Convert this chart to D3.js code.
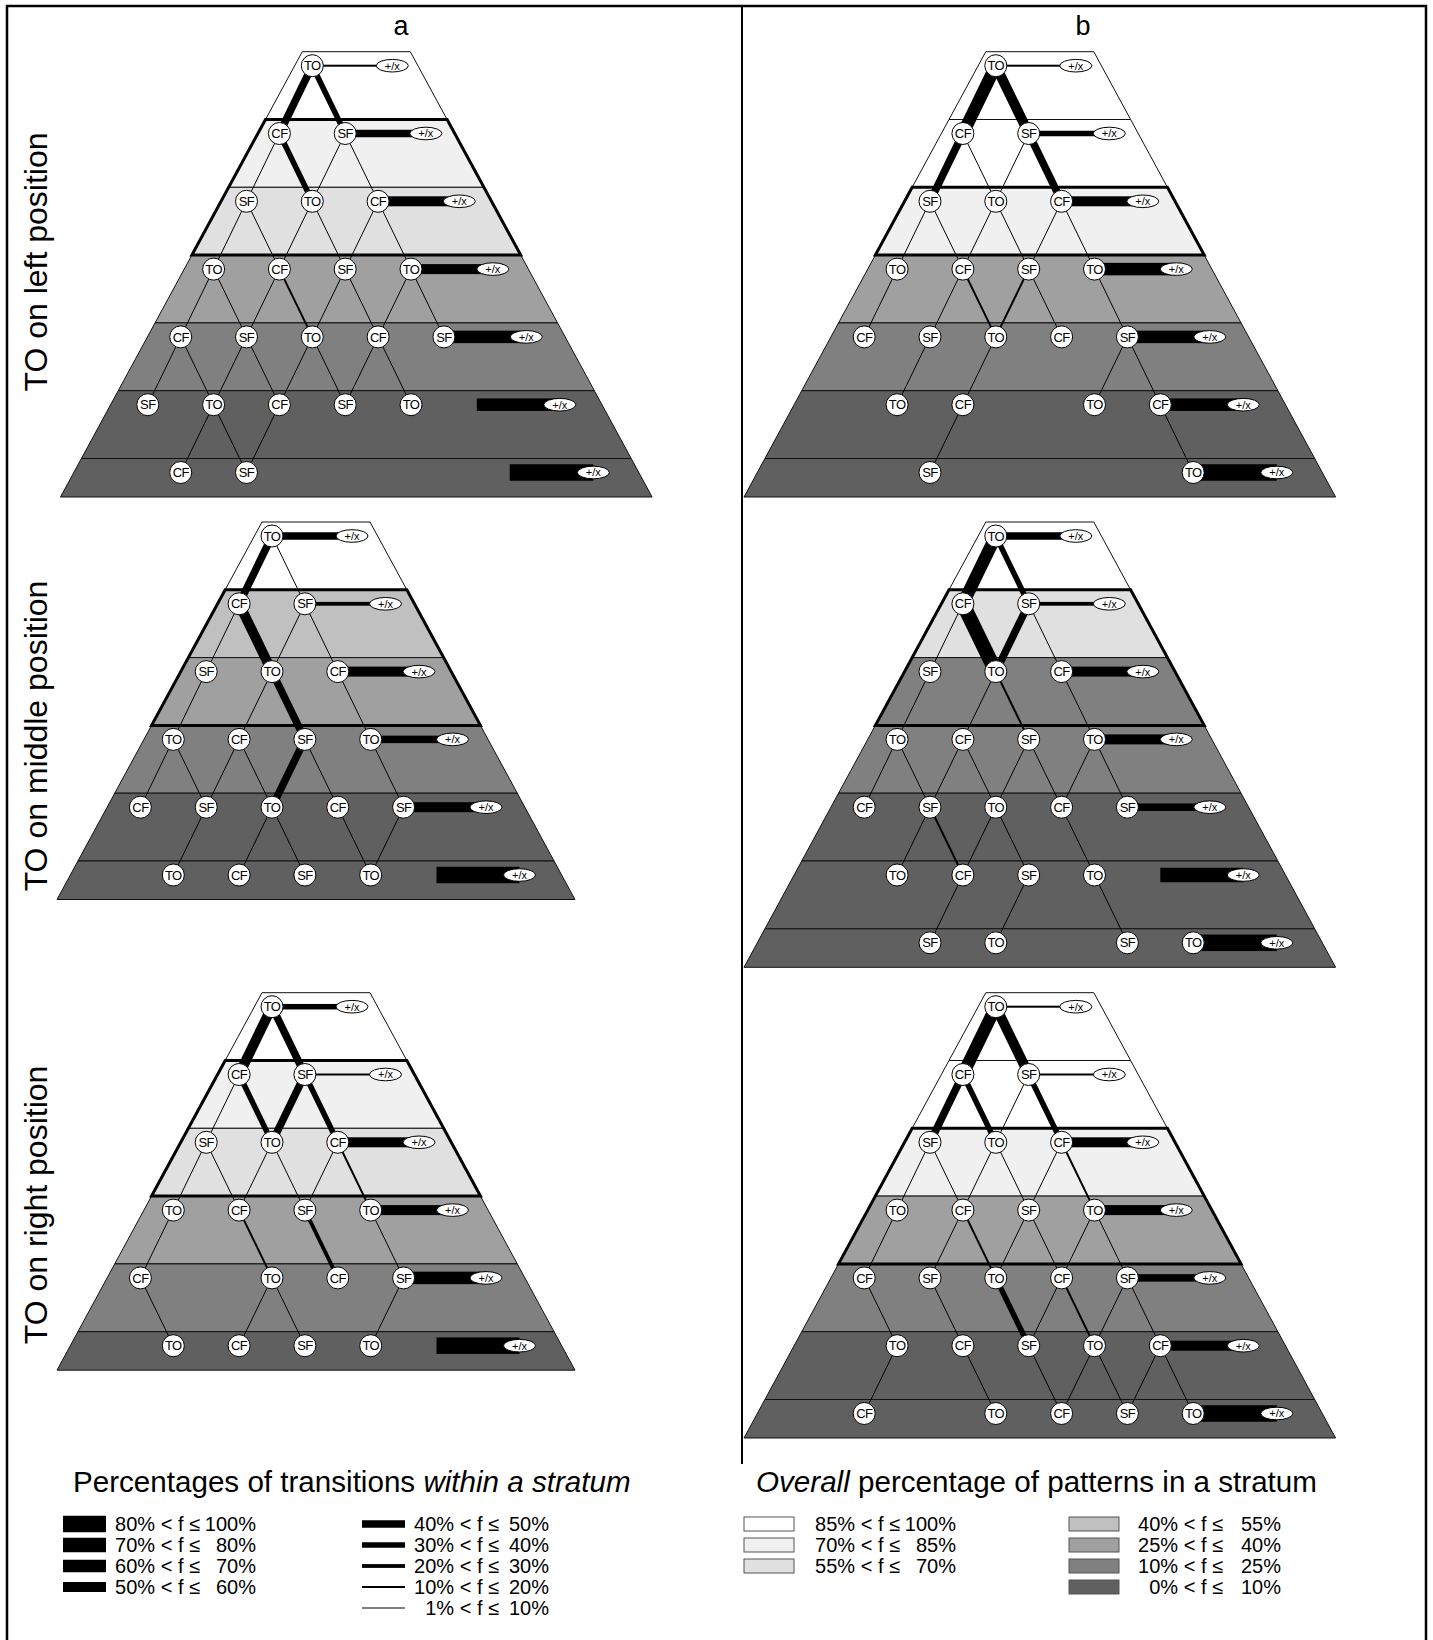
<!DOCTYPE html>
<html>
<head>
<meta charset="utf-8">
<script src="https://cdn.jsdelivr.net/npm/d3@7"></script>
<style>
  body { margin: 0; background: #fff; }
  svg { display: block; }
  text { font-family: "Liberation Sans", Arial, Helvetica, sans-serif; fill: #000; }
</style>
</head>
<body>
<svg id="chart" width="1433" height="1640"></svg>
<script>
// ---- frequency classes -------------------------------------------------
// transitions within a stratum (%): class breaks and stroke widths
const freqBreaks = [10, 20, 30, 40, 50, 60, 70, 80];
const freqWidths = [1, 2, 3.8, 5.5, 7.5, 10, 12.5, 14.5, 16.5];
// overall share of patterns in a stratum (%): class breaks and fills
const shareBreaks = [10, 25, 40, 55, 70, 85];
const shareFills = ["#606060", "#808080", "#a0a0a0", "#c0c0c0", "#e0e0e0", "#f0f0f0", "#ffffff"];

const columnTitles = ["a", "b"];
const positionTitles = ["TO on left position", "TO on middle position", "TO on right position"];

// legend entries: [lower bound text, upper bound text, representative value]
const freqLegendLeft = [["80% < f \u2264", "100%", 90], ["70% < f \u2264", "80%", 75], ["60% < f \u2264", "70%", 65], ["50% < f \u2264", "60%", 55]];
const freqLegendRight = [["40% < f \u2264", "50%", 45], ["30% < f \u2264", "40%", 35], ["20% < f \u2264", "30%", 25], ["10% < f \u2264", "20%", 15], ["1% < f \u2264", "10%", 5]];
const shareLegendLeft = [["85% < f \u2264", "100%", 92], ["70% < f \u2264", "85%", 78], ["55% < f \u2264", "70%", 62]];
const shareLegendRight = [["40% < f \u2264", "55%", 48], ["25% < f \u2264", "40%", 32], ["10% < f \u2264", "25%", 18], ["0% < f \u2264", "10%", 5]];

// ---- pyramids ------------------------------------------------------------
// nodes: per stratum, [lattice position, pattern]
// edges: [upper stratum, from position, to position, % of transitions]
// ends: % of transitions to +/x per stratum; shares: overall % per stratum
// box: first and last stratum inside the bold outline

// a / TO on left position
const nodesA1 = [
  [[0, "TO"]],
  [[-1, "CF"], [1, "SF"]],
  [[-2, "SF"], [0, "TO"], [2, "CF"]],
  [[-3, "TO"], [-1, "CF"], [1, "SF"], [3, "TO"]],
  [[-4, "CF"], [-2, "SF"], [0, "TO"], [2, "CF"], [4, "SF"]],
  [[-5, "SF"], [-3, "TO"], [-1, "CF"], [1, "SF"], [3, "TO"]],
  [[-4, "CF"], [-2, "SF"]]
];
const edgesA1 = [
  [0, 0, -1, 45], [0, 0, 1, 35],
  [1, -1, -2, 5], [1, -1, 0, 35], [1, 1, 0, 5], [1, 1, 2, 5],
  [2, -2, -3, 5], [2, -2, -1, 5], [2, 0, -1, 5], [2, 0, 1, 5], [2, 2, 1, 5], [2, 2, 3, 5],
  [3, -3, -4, 5], [3, -3, -2, 5], [3, -1, -2, 5], [3, -1, 0, 15], [3, 1, 0, 5], [3, 1, 2, 5], [3, 3, 2, 5], [3, 3, 4, 5],
  [4, -4, -5, 5], [4, -4, -3, 5], [4, -2, -3, 5], [4, -2, -1, 5], [4, 0, -1, 5], [4, 0, 1, 5], [4, 2, 1, 5], [4, 2, 3, 5],
  [5, -3, -4, 5], [5, -3, -2, 5], [5, -1, -2, 5]
];
const endsA1 = [15, 45, 55, 55, 65, 65, 90];
const sharesA1 = [92, 78, 62, 32, 18, 5, 5];
const boxA1 = [1, 2];

// a / TO on middle position
const nodesA2 = [
  [[0, "TO"]],
  [[-1, "CF"], [1, "SF"]],
  [[-2, "SF"], [0, "TO"], [2, "CF"]],
  [[-3, "TO"], [-1, "CF"], [1, "SF"], [3, "TO"]],
  [[-4, "CF"], [-2, "SF"], [0, "TO"], [2, "CF"], [4, "SF"]],
  [[-3, "TO"], [-1, "CF"], [1, "SF"], [3, "TO"]]
];
const edgesA2 = [
  [0, 0, -1, 45], [0, 0, 1, 5],
  [1, -1, -2, 5], [1, -1, 0, 55], [1, 1, 0, 5], [1, 1, 2, 5],
  [2, -2, -3, 5], [2, 0, -1, 5], [2, 0, 1, 45], [2, 2, 3, 5],
  [3, -3, -4, 5], [3, -3, -2, 5], [3, -1, -2, 5], [3, -1, 0, 5], [3, 1, 0, 45], [3, 1, 2, 5], [3, 3, 4, 5],
  [4, -2, -3, 5], [4, 0, -1, 5], [4, 0, 1, 5], [4, 2, 3, 5], [4, 4, 3, 5]
];
const endsA2 = [45, 25, 55, 45, 55, 90];
const sharesA2 = [92, 48, 32, 18, 5, 5];
const boxA2 = [1, 2];

// a / TO on right position
const nodesA3 = [
  [[0, "TO"]],
  [[-1, "CF"], [1, "SF"]],
  [[-2, "SF"], [0, "TO"], [2, "CF"]],
  [[-3, "TO"], [-1, "CF"], [1, "SF"], [3, "TO"]],
  [[-4, "CF"], [0, "TO"], [2, "CF"], [4, "SF"]],
  [[-3, "TO"], [-1, "CF"], [1, "SF"], [3, "TO"]]
];
const edgesA3 = [
  [0, 0, -1, 55], [0, 0, 1, 45],
  [1, -1, -2, 5], [1, -1, 0, 35], [1, 1, 0, 45], [1, 1, 2, 35],
  [2, -2, -3, 5], [2, -2, -1, 5], [2, 0, -1, 5], [2, 0, 1, 5], [2, 2, 1, 5], [2, 2, 3, 15],
  [3, -3, -4, 5], [3, -1, 0, 15], [3, 1, 2, 25], [3, 3, 4, 5],
  [4, -4, -3, 5], [4, 0, -1, 5], [4, 0, 1, 5], [4, 4, 3, 5]
];
const endsA3 = [35, 15, 55, 55, 65, 90];
const sharesA3 = [92, 78, 62, 32, 18, 5];
const boxA3 = [1, 2];

// b / TO on left position
const nodesB1 = [
  [[0, "TO"]],
  [[-1, "CF"], [1, "SF"]],
  [[-2, "SF"], [0, "TO"], [2, "CF"]],
  [[-3, "TO"], [-1, "CF"], [1, "SF"], [3, "TO"]],
  [[-4, "CF"], [-2, "SF"], [0, "TO"], [2, "CF"], [4, "SF"]],
  [[-3, "TO"], [-1, "CF"], [3, "TO"], [5, "CF"]],
  [[-2, "SF"], [6, "TO"]]
];
const edgesB1 = [
  [0, 0, -1, 65], [0, 0, 1, 55],
  [1, -1, -2, 45], [1, -1, 0, 5], [1, 1, 0, 5], [1, 1, 2, 45],
  [2, -2, -3, 5], [2, -2, -1, 5], [2, 0, -1, 5], [2, 0, 1, 5], [2, 2, 1, 5], [2, 2, 3, 5],
  [3, -3, -4, 5], [3, -1, -2, 5], [3, -1, 0, 15], [3, 1, 0, 15], [3, 1, 2, 5], [3, 3, 4, 5],
  [4, -2, -3, 5], [4, 0, -1, 5], [4, 4, 3, 5], [4, 4, 5, 5],
  [5, -1, -2, 5], [5, 5, 6, 5]
];
const endsB1 = [12, 35, 55, 65, 65, 65, 90];
const sharesB1 = [92, 92, 78, 32, 18, 5, 5];
const boxB1 = [2, 2];

// b / TO on middle position
const nodesB2 = [
  [[0, "TO"]],
  [[-1, "CF"], [1, "SF"]],
  [[-2, "SF"], [0, "TO"], [2, "CF"]],
  [[-3, "TO"], [-1, "CF"], [1, "SF"], [3, "TO"]],
  [[-4, "CF"], [-2, "SF"], [0, "TO"], [2, "CF"], [4, "SF"]],
  [[-3, "TO"], [-1, "CF"], [1, "SF"], [3, "TO"]],
  [[-2, "SF"], [0, "TO"], [4, "SF"], [6, "TO"]]
];
const edgesB2 = [
  [0, 0, -1, 65], [0, 0, 1, 35],
  [1, -1, -2, 5], [1, -1, 0, 75], [1, 1, 0, 45], [1, 1, 2, 5],
  [2, -2, -3, 5], [2, 0, -1, 5], [2, 0, 1, 15], [2, 2, 3, 5],
  [3, -3, -4, 5], [3, -3, -2, 5], [3, -1, -2, 5], [3, -1, 0, 5], [3, 1, 0, 5], [3, 1, 2, 5], [3, 3, 2, 5], [3, 3, 4, 5],
  [4, -2, -3, 5], [4, -2, -1, 15], [4, 0, -1, 5], [4, 0, 1, 5], [4, 2, 3, 5],
  [5, -1, -2, 5], [5, 1, 0, 5], [5, 3, 4, 5]
];
const endsB2 = [45, 25, 55, 55, 45, 75, 90];
const sharesB2 = [92, 62, 18, 18, 5, 5, 5];
const boxB2 = [1, 2];

// b / TO on right position
const nodesB3 = [
  [[0, "TO"]],
  [[-1, "CF"], [1, "SF"]],
  [[-2, "SF"], [0, "TO"], [2, "CF"]],
  [[-3, "TO"], [-1, "CF"], [1, "SF"], [3, "TO"]],
  [[-4, "CF"], [-2, "SF"], [0, "TO"], [2, "CF"], [4, "SF"]],
  [[-3, "TO"], [-1, "CF"], [1, "SF"], [3, "TO"], [5, "CF"]],
  [[-4, "CF"], [0, "TO"], [2, "CF"], [4, "SF"], [6, "TO"]]
];
const edgesB3 = [
  [0, 0, -1, 65], [0, 0, 1, 55],
  [1, -1, -2, 45], [1, -1, 0, 35], [1, 1, 0, 5], [1, 1, 2, 35],
  [2, -2, -3, 5], [2, -2, -1, 5], [2, 0, -1, 5], [2, 0, 1, 5], [2, 2, 1, 5], [2, 2, 3, 15],
  [3, -3, -4, 5], [3, -1, -2, 5], [3, -1, 0, 15], [3, 1, 0, 5], [3, 1, 2, 5], [3, 3, 2, 5], [3, 3, 4, 5],
  [4, -4, -3, 5], [4, -2, -1, 5], [4, 0, 1, 35], [4, 2, 1, 5], [4, 2, 3, 15], [4, 4, 3, 5], [4, 4, 5, 5],
  [5, -3, -4, 5], [5, -1, 0, 5], [5, 1, 2, 5], [5, 3, 2, 5], [5, 3, 4, 5], [5, 5, 4, 5], [5, 5, 6, 5]
];
const endsB3 = [12, 12, 55, 55, 45, 55, 90];
const sharesB3 = [92, 92, 78, 32, 18, 5, 5];
const boxB3 = [2, 3];

// ---- drawing ---------------------------------------------------------------
const svg = d3.select("#chart");
const strokeW = d3.scaleThreshold().domain(freqBreaks).range(freqWidths);
const shade = d3.scaleThreshold().domain(shareBreaks).range(shareFills);

// lattice geometry
const HALF_STEP = 32.9, ROW_H = 67.8, LAST_H = 38.5, NODE_DY = 14, SLOPE = 0.543;

function pyramid(apex, top, nodes, edges, ends, shares, box) {
  const n = nodes.length;
  const g = svg.append("g");
  const x = d3.scaleLinear().domain([0, 1]).range([apex, apex + HALF_STEP]);
  const rowTop = r => top + r * ROW_H;
  const rowBot = r => (r < n - 1 ? top + (r + 1) * ROW_H : top + (n - 1) * ROW_H + LAST_H);
  const ny = r => rowTop(r) + NODE_DY;
  const left = y => apex - 10 - SLOPE * (y - top);
  const right = y => apex + 98 + SLOPE * (y - top);
  const poly = (y0, y1) => [[left(y0), y0], [right(y0), y0], [right(y1), y1], [left(y1), y1]]
    .map(p => p.join(",")).join(" ");
  const endX = r => apex + 80 + r * 33.5;

  g.selectAll("polygon.stratum").data(shares).join("polygon")
    .attr("class", "stratum")
    .attr("points", (d, i) => poly(rowTop(i), rowBot(i)))
    .attr("fill", d => shade(d))
    .attr("stroke", "#111").attr("stroke-width", 1);

  g.append("polygon")
    .attr("points", poly(rowTop(box[0]), rowBot(box[1])))
    .attr("fill", "none").attr("stroke", "#000").attr("stroke-width", 3)
    .attr("stroke-linejoin", "miter");

  g.selectAll("line.edge").data(edges).join("line")
    .attr("class", "edge")
    .attr("x1", d => x(d[1])).attr("y1", d => ny(d[0]))
    .attr("x2", d => x(d[2])).attr("y2", d => ny(d[0] + 1))
    .attr("stroke", "#000").attr("stroke-width", d => strokeW(d[3]));

  g.selectAll("rect.end").data(ends).join("rect")
    .attr("class", "end")
    .attr("x", (d, i) => x(i)).attr("width", (d, i) => endX(i) - x(i))
    .attr("y", (d, i) => ny(i) - strokeW(d) / 2).attr("height", d => strokeW(d))
    .attr("fill", "#000");

  const endMarks = g.selectAll("g.endmark").data(ends).join("g")
    .attr("class", "endmark")
    .attr("transform", (d, i) => `translate(${endX(i)},${ny(i)})`);
  endMarks.append("ellipse").attr("rx", 16).attr("ry", 6.3)
    .attr("fill", "#fff").attr("stroke", "#000").attr("stroke-width", 1);
  endMarks.append("text").attr("text-anchor", "middle").attr("dy", "0.36em")
    .attr("font-size", 11).text("+/x");

  const flat = nodes.flatMap((row, r) => row.map(([m, label]) => ({ r, m, label })));
  const nd = g.selectAll("g.node").data(flat).join("g")
    .attr("class", "node")
    .attr("transform", d => `translate(${x(d.m)},${ny(d.r)})`);
  nd.append("circle").attr("r", 11)
    .attr("fill", "#fff").attr("stroke", "#000").attr("stroke-width", 1);
  nd.append("text").attr("text-anchor", "middle").attr("dy", "0.36em")
    .attr("font-size", 13).attr("letter-spacing", -0.6).text(d => d.label);
}

// frame and column divider
svg.append("rect").attr("x", 7).attr("y", 6).attr("width", 1419).attr("height", 1660)
  .attr("fill", "none").attr("stroke", "#000").attr("stroke-width", 2.5);
svg.append("line").attr("x1", 742).attr("x2", 742).attr("y1", 6).attr("y2", 1464)
  .attr("stroke", "#000").attr("stroke-width", 2);

svg.selectAll("text.col").data(columnTitles).join("text")
  .attr("class", "col")
  .attr("x", (d, i) => [401, 1083][i]).attr("y", 35)
  .attr("text-anchor", "middle").attr("font-size", 27).text(d => d);

svg.selectAll("text.pos").data(positionTitles).join("text")
  .attr("class", "pos")
  .attr("transform", (d, i) => `translate(47,${[262, 736, 1205][i]}) rotate(-90)`)
  .attr("text-anchor", "middle").attr("font-size", 32).text(d => d);

pyramid(312.3, 51.7, nodesA1, edgesA1, endsA1, sharesA1, boxA1);
pyramid(272, 522, nodesA2, edgesA2, endsA2, sharesA2, boxA2);
pyramid(272, 992.7, nodesA3, edgesA3, endsA3, sharesA3, boxA3);
pyramid(995.8, 51.7, nodesB1, edgesB1, endsB1, sharesB1, boxB1);
pyramid(995.8, 522, nodesB2, edgesB2, endsB2, sharesB2, boxB2);
pyramid(995.8, 992.7, nodesB3, edgesB3, endsB3, sharesB3, boxB3);

// ---- legends -----------------------------------------------------------------
const t1 = svg.append("text").attr("x", 73).attr("y", 1492).attr("font-size", 29.6);
t1.append("tspan").text("Percentages of transitions ");
t1.append("tspan").attr("font-style", "italic").text("within a stratum");
const t2 = svg.append("text").attr("x", 756).attr("y", 1492).attr("font-size", 29.6);
t2.append("tspan").attr("font-style", "italic").text("Overall");
t2.append("tspan").text(" percentage of patterns in a stratum");

const ROW_Y = [1524, 1545, 1566, 1587, 1608];

function legendColumn(items, swX, swW, textEndA, textEndB, swatch) {
  const g = svg.append("g");
  const rows = g.selectAll("g").data(items).join("g")
    .attr("transform", (d, i) => `translate(0,${ROW_Y[i]})`);
  swatch(rows, swX, swW);
  rows.append("text").attr("x", textEndA).attr("y", 7).attr("text-anchor", "end")
    .attr("font-size", 20).text(d => d[0]);
  rows.append("text").attr("x", textEndB).attr("y", 7).attr("text-anchor", "end")
    .attr("font-size", 20).text(d => d[1]);
}
const lineSwatch = (rows, x0, w) => rows.append("rect")
  .attr("x", x0).attr("width", w)
  .attr("y", d => -strokeW(d[2]) / 2).attr("height", d => strokeW(d[2]))
  .attr("fill", "#000");
const boxSwatch = (rows, x0, w) => rows.append("rect")
  .attr("x", x0).attr("width", w).attr("y", -7).attr("height", 14)
  .attr("fill", d => shade(d[2])).attr("stroke", "#555").attr("stroke-width", 1);

legendColumn(freqLegendLeft, 63, 43, 200, 256, lineSwatch);
legendColumn(freqLegendRight, 362, 43, 499, 549, lineSwatch);
legendColumn(shareLegendLeft, 744, 50, 900, 956, boxSwatch);
legendColumn(shareLegendRight, 1069, 50, 1223, 1281, boxSwatch);
</script>
</body>
</html>
